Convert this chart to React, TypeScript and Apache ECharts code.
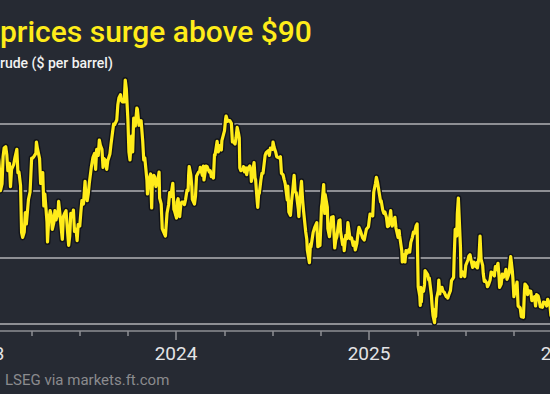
import React, { useEffect, useRef } from "react";
import * as echarts from "echarts";

// Brent crude, $ per barrel
const prices2023: [string, number][] = [
  ["2023-01-27", 86.7], ["2023-01-31", 84.5], ["2023-02-02", 82.2], ["2023-02-03", 80.0], ["2023-02-06", 81.0],
  ["2023-02-08", 85.1], ["2023-02-10", 86.4], ["2023-02-13", 86.6], ["2023-02-15", 85.4], ["2023-02-17", 83.0],
  ["2023-02-20", 84.1], ["2023-02-22", 80.6], ["2023-02-24", 83.2], ["2023-02-28", 83.9], ["2023-03-02", 84.8],
  ["2023-03-06", 86.2], ["2023-03-08", 82.7], ["2023-03-10", 82.8], ["2023-03-13", 80.8], ["2023-03-15", 73.7],
  ["2023-03-17", 73.0], ["2023-03-20", 73.8], ["2023-03-22", 76.7], ["2023-03-24", 75.0], ["2023-03-28", 78.7],
  ["2023-03-31", 79.8], ["2023-04-03", 84.9], ["2023-04-05", 84.9], ["2023-04-07", 85.1], ["2023-04-11", 85.6],
  ["2023-04-12", 87.3], ["2023-04-14", 86.3], ["2023-04-18", 84.8], ["2023-04-20", 81.1], ["2023-04-24", 82.7],
  ["2023-04-26", 77.7], ["2023-04-28", 79.5], ["2023-05-02", 75.3], ["2023-05-03", 72.3], ["2023-05-05", 75.3],
  ["2023-05-08", 77.0], ["2023-05-10", 76.4], ["2023-05-12", 74.2], ["2023-05-15", 75.2], ["2023-05-17", 77.0],
  ["2023-05-19", 75.6], ["2023-05-23", 76.8], ["2023-05-24", 78.4], ["2023-05-26", 76.9], ["2023-05-30", 73.5],
  ["2023-05-31", 72.7], ["2023-06-02", 76.1], ["2023-06-05", 76.7], ["2023-06-07", 77.0], ["2023-06-09", 74.8],
  ["2023-06-12", 71.8], ["2023-06-14", 73.2], ["2023-06-16", 76.6], ["2023-06-19", 76.1], ["2023-06-21", 77.1],
  ["2023-06-23", 73.9], ["2023-06-26", 74.2], ["2023-06-28", 72.5], ["2023-06-30", 74.9], ["2023-07-03", 74.7],
  ["2023-07-05", 76.7], ["2023-07-07", 78.5], ["2023-07-10", 78.0], ["2023-07-13", 81.4], ["2023-07-14", 79.9],
  ["2023-07-17", 78.5], ["2023-07-19", 79.5], ["2023-07-21", 81.1], ["2023-07-25", 83.6], ["2023-07-28", 85.0],
  ["2023-07-31", 85.6], ["2023-08-02", 83.2], ["2023-08-04", 86.2], ["2023-08-07", 85.3], ["2023-08-09", 87.6],
  ["2023-08-11", 86.8], ["2023-08-14", 86.2], ["2023-08-16", 83.5], ["2023-08-18", 84.8], ["2023-08-21", 84.5],
  ["2023-08-23", 83.2], ["2023-08-25", 84.5], ["2023-08-29", 85.5], ["2023-08-31", 86.9], ["2023-09-05", 90.0],
  ["2023-09-07", 89.9], ["2023-09-11", 90.6], ["2023-09-13", 92.9], ["2023-09-15", 93.9], ["2023-09-18", 94.4],
  ["2023-09-20", 93.5], ["2023-09-22", 93.3], ["2023-09-25", 93.3], ["2023-09-27", 96.6], ["2023-09-29", 95.3],
  ["2023-10-02", 90.7], ["2023-10-04", 85.8], ["2023-10-06", 84.6], ["2023-10-09", 88.2], ["2023-10-11", 85.8],
  ["2023-10-13", 90.9], ["2023-10-16", 89.7], ["2023-10-19", 92.4], ["2023-10-20", 92.2], ["2023-10-23", 89.8],
  ["2023-10-25", 90.1], ["2023-10-27", 90.5], ["2023-10-30", 87.5], ["2023-11-01", 84.6], ["2023-11-03", 84.9],
  ["2023-11-07", 81.6], ["2023-11-08", 79.5], ["2023-11-10", 81.4], ["2023-11-14", 82.5], ["2023-11-16", 77.4],
  ["2023-11-17", 80.6], ["2023-11-20", 82.3], ["2023-11-22", 82.0], ["2023-11-24", 80.6], ["2023-11-28", 81.7],
  ["2023-11-30", 82.8], ["2023-12-01", 78.9], ["2023-12-04", 78.0], ["2023-12-06", 74.3], ["2023-12-07", 74.1],
  ["2023-12-12", 73.2], ["2023-12-13", 74.3], ["2023-12-15", 76.6], ["2023-12-18", 77.9], ["2023-12-20", 79.7],
  ["2023-12-22", 79.1], ["2023-12-26", 81.1], ["2023-12-28", 77.2], ["2023-12-29", 77.0],
];

const prices2024: [string, number][] = [
  ["2024-01-02", 75.9], ["2024-01-03", 78.3], ["2024-01-05", 78.8], ["2024-01-08", 76.1], ["2024-01-10", 77.8],
  ["2024-01-12", 78.3], ["2024-01-16", 78.3], ["2024-01-17", 77.9], ["2024-01-19", 78.6], ["2024-01-22", 80.1],
  ["2024-01-24", 80.0], ["2024-01-25", 82.4], ["2024-01-26", 83.6], ["2024-01-29", 82.4], ["2024-01-31", 80.6],
  ["2024-02-01", 78.7], ["2024-02-05", 78.0], ["2024-02-07", 79.2], ["2024-02-09", 82.2], ["2024-02-13", 82.8],
  ["2024-02-15", 82.9], ["2024-02-16", 83.5], ["2024-02-20", 82.3], ["2024-02-22", 83.7], ["2024-02-23", 81.6],
  ["2024-02-27", 83.7], ["2024-02-29", 83.6], ["2024-03-04", 82.8], ["2024-03-06", 83.0], ["2024-03-08", 82.1],
  ["2024-03-11", 82.2], ["2024-03-12", 81.9], ["2024-03-14", 85.4], ["2024-03-15", 85.3], ["2024-03-18", 86.9],
  ["2024-03-19", 87.4], ["2024-03-21", 85.8], ["2024-03-25", 86.8], ["2024-03-27", 86.1], ["2024-03-28", 87.5],
  ["2024-04-02", 89.0], ["2024-04-04", 90.7], ["2024-04-05", 91.2], ["2024-04-08", 90.4], ["2024-04-10", 90.5],
  ["2024-04-12", 90.5], ["2024-04-15", 90.1], ["2024-04-17", 87.3], ["2024-04-19", 87.3], ["2024-04-22", 87.0],
  ["2024-04-24", 88.0], ["2024-04-26", 89.5], ["2024-04-29", 88.4], ["2024-04-30", 87.9], ["2024-05-01", 83.4],
  ["2024-05-03", 83.0], ["2024-05-07", 83.2], ["2024-05-08", 83.6], ["2024-05-10", 82.8], ["2024-05-13", 83.4],
  ["2024-05-14", 82.4], ["2024-05-16", 83.3], ["2024-05-20", 83.7], ["2024-05-22", 82.9], ["2024-05-23", 81.4],
  ["2024-05-28", 84.2], ["2024-05-30", 81.9], ["2024-05-31", 81.6], ["2024-06-03", 78.4], ["2024-06-04", 77.5],
  ["2024-06-06", 79.9], ["2024-06-07", 79.6], ["2024-06-10", 81.6], ["2024-06-12", 82.6], ["2024-06-14", 82.6],
  ["2024-06-18", 85.3], ["2024-06-20", 85.7], ["2024-06-24", 86.0], ["2024-06-26", 85.3], ["2024-06-28", 86.4],
  ["2024-07-02", 86.2], ["2024-07-03", 87.3], ["2024-07-05", 86.5], ["2024-07-08", 85.8], ["2024-07-10", 85.1],
  ["2024-07-12", 85.0], ["2024-07-15", 84.9], ["2024-07-17", 85.1], ["2024-07-19", 82.6], ["2024-07-22", 82.4],
  ["2024-07-24", 81.7], ["2024-07-26", 81.1], ["2024-07-30", 78.6], ["2024-07-31", 80.7], ["2024-08-02", 76.8],
  ["2024-08-05", 76.3], ["2024-08-07", 78.3], ["2024-08-09", 79.7], ["2024-08-12", 82.3], ["2024-08-14", 79.8],
  ["2024-08-16", 79.7], ["2024-08-20", 77.2], ["2024-08-21", 76.1], ["2024-08-23", 79.0], ["2024-08-26", 81.4],
  ["2024-08-28", 78.7], ["2024-08-30", 76.9], ["2024-09-03", 73.8], ["2024-09-05", 72.7], ["2024-09-06", 71.1],
  ["2024-09-10", 69.2], ["2024-09-12", 72.0], ["2024-09-13", 71.6], ["2024-09-17", 73.7], ["2024-09-20", 74.5],
  ["2024-09-24", 75.2], ["2024-09-26", 71.6], ["2024-09-30", 71.8], ["2024-10-01", 73.6], ["2024-10-03", 77.6],
  ["2024-10-04", 78.1], ["2024-10-07", 80.9], ["2024-10-09", 76.6], ["2024-10-10", 79.4], ["2024-10-14", 77.5],
  ["2024-10-15", 74.3], ["2024-10-18", 73.1], ["2024-10-22", 76.0], ["2024-10-25", 76.1], ["2024-10-28", 71.4],
  ["2024-10-30", 72.6], ["2024-11-01", 73.1], ["2024-11-05", 75.5], ["2024-11-07", 75.6], ["2024-11-08", 73.9],
  ["2024-11-12", 71.9], ["2024-11-14", 72.6], ["2024-11-15", 71.0], ["2024-11-18", 73.3], ["2024-11-20", 72.8],
  ["2024-11-22", 75.2], ["2024-11-26", 72.8], ["2024-11-27", 72.8], ["2024-11-29", 72.9], ["2024-12-02", 71.8],
  ["2024-12-04", 72.3], ["2024-12-06", 71.1], ["2024-12-09", 72.1], ["2024-12-11", 73.5], ["2024-12-13", 74.5],
  ["2024-12-16", 73.9], ["2024-12-18", 73.4], ["2024-12-20", 72.9], ["2024-12-23", 72.6], ["2024-12-27", 74.2],
  ["2024-12-31", 74.6],
];

const prices2025: [string, number][] = [
  ["2025-01-02", 75.9], ["2025-01-03", 76.5], ["2025-01-06", 76.3], ["2025-01-08", 76.2], ["2025-01-10", 79.8],
  ["2025-01-13", 81.0], ["2025-01-15", 82.0], ["2025-01-17", 81.3], ["2025-01-21", 79.3], ["2025-01-23", 78.3],
  ["2025-01-24", 78.5], ["2025-01-27", 77.1], ["2025-01-29", 76.6], ["2025-01-31", 76.8], ["2025-02-03", 76.0],
  ["2025-02-05", 74.6], ["2025-02-07", 74.7], ["2025-02-11", 77.0], ["2025-02-13", 75.0], ["2025-02-14", 74.7],
  ["2025-02-18", 75.8], ["2025-02-19", 76.0], ["2025-02-21", 74.4], ["2025-02-25", 73.0], ["2025-02-27", 74.0],
  ["2025-02-28", 73.2], ["2025-03-04", 71.0], ["2025-03-05", 69.3], ["2025-03-07", 70.4], ["2025-03-10", 69.3],
  ["2025-03-12", 71.0], ["2025-03-14", 70.6], ["2025-03-17", 71.1], ["2025-03-19", 70.8], ["2025-03-21", 72.2],
  ["2025-03-24", 73.0], ["2025-03-26", 73.8], ["2025-03-28", 73.6], ["2025-03-31", 74.7], ["2025-04-02", 75.0],
  ["2025-04-03", 70.1], ["2025-04-04", 65.6], ["2025-04-07", 64.2], ["2025-04-08", 62.8], ["2025-04-09", 65.5],
  ["2025-04-10", 63.3], ["2025-04-11", 64.8], ["2025-04-14", 64.9], ["2025-04-16", 65.9], ["2025-04-17", 68.0],
  ["2025-04-22", 67.4], ["2025-04-24", 66.6], ["2025-04-25", 66.9], ["2025-04-29", 64.3], ["2025-04-30", 63.1],
  ["2025-05-02", 61.3], ["2025-05-05", 60.2], ["2025-05-06", 62.2], ["2025-05-07", 61.1], ["2025-05-09", 63.9],
  ["2025-05-12", 65.0], ["2025-05-13", 66.6], ["2025-05-15", 64.5], ["2025-05-16", 65.4], ["2025-05-19", 65.5],
  ["2025-05-21", 64.9], ["2025-05-23", 64.8], ["2025-05-27", 64.1], ["2025-05-29", 64.2], ["2025-05-30", 63.9],
  ["2025-06-02", 64.6], ["2025-06-04", 65.0], ["2025-06-06", 66.5], ["2025-06-10", 67.0], ["2025-06-11", 69.8],
  ["2025-06-13", 74.2], ["2025-06-16", 73.2], ["2025-06-17", 76.5], ["2025-06-19", 78.9], ["2025-06-20", 77.0],
  ["2025-06-23", 71.5], ["2025-06-24", 67.1], ["2025-06-26", 67.7], ["2025-06-27", 67.8], ["2025-07-01", 67.1],
  ["2025-07-03", 68.8], ["2025-07-07", 69.6], ["2025-07-09", 70.2], ["2025-07-11", 70.4], ["2025-07-14", 69.2],
  ["2025-07-16", 68.5], ["2025-07-18", 69.3], ["2025-07-22", 68.6], ["2025-07-24", 69.2], ["2025-07-25", 68.4],
  ["2025-07-28", 70.0], ["2025-07-30", 73.2], ["2025-08-01", 69.7], ["2025-08-04", 68.8], ["2025-08-05", 67.6],
  ["2025-08-07", 66.4], ["2025-08-08", 66.6], ["2025-08-12", 66.1], ["2025-08-13", 65.6], ["2025-08-15", 65.9],
  ["2025-08-18", 66.6], ["2025-08-20", 67.8], ["2025-08-22", 67.7], ["2025-08-26", 67.2], ["2025-08-28", 68.6],
  ["2025-08-29", 68.1], ["2025-09-02", 69.1], ["2025-09-04", 67.0], ["2025-09-05", 65.5], ["2025-09-08", 66.0],
  ["2025-09-10", 67.5], ["2025-09-12", 67.0], ["2025-09-15", 67.4], ["2025-09-17", 68.2], ["2025-09-19", 66.7],
  ["2025-09-23", 67.6], ["2025-09-25", 69.4], ["2025-09-26", 70.1], ["2025-09-29", 68.0], ["2025-09-30", 67.0],
  ["2025-10-02", 64.1], ["2025-10-06", 65.5], ["2025-10-08", 66.3], ["2025-10-10", 62.7], ["2025-10-14", 62.4],
  ["2025-10-16", 61.1], ["2025-10-20", 61.0], ["2025-10-22", 65.0], ["2025-10-23", 66.0], ["2025-10-27", 65.6],
  ["2025-10-28", 64.4], ["2025-10-30", 65.0], ["2025-11-03", 64.9], ["2025-11-05", 63.5], ["2025-11-07", 63.6],
  ["2025-11-10", 64.1], ["2025-11-12", 62.7], ["2025-11-14", 64.4], ["2025-11-17", 64.2], ["2025-11-19", 63.5],
  ["2025-11-21", 62.6], ["2025-11-25", 62.5], ["2025-11-27", 63.3], ["2025-12-01", 63.2], ["2025-12-03", 62.7],
  ["2025-12-05", 63.7], ["2025-12-09", 62.9], ["2025-12-11", 61.3], ["2025-12-15", 60.6], ["2025-12-17", 59.7],
  ["2025-12-19", 60.5], ["2025-12-23", 62.4], ["2025-12-30", 61.9],
];

const yearTicks = [2023, 2024, 2025, 2026];
const yTicks = [60, 70, 80, 90];

const TITLE = "prices surge above $90";
const SUBTITLE = "rude ($ per barrel)";
const SOURCE = "LSEG via markets.ft.com";

const BG = "#262a33";
const YELLOW = "#ffec1a";
const GRID = "#8e8f94";

function toYear(d: string): number {
  const [y, m, dd] = d.split("-").map(Number);
  const start = Date.UTC(y, 0, 1);
  const end = Date.UTC(y + 1, 0, 1);
  return y + (Date.UTC(y, m - 1, dd) - start) / (end - start);
}

export default function App() {
  const ref = useRef<HTMLDivElement>(null);
  useEffect(() => {
    if (!ref.current) return;
    const chart = echarts.init(ref.current, undefined, { renderer: "svg" });
    const all = [...prices2023, ...prices2024, ...prices2025];
    const data = all.map(([d, v]) => [toYear(d), v]);
    chart.setOption({
      animation: false,
      backgroundColor: BG,
      grid: {
        left: -17,
        right: -12,
        top: 74,
        bottom: 70,
        containLabel: false,
        outerBoundsMode: "none",
      },
      xAxis: {
        type: "value",
        min: yearTicks[0],
        max: yearTicks[yearTicks.length - 1],
        interval: 1,
        position: "bottom",
        offset: 7,
        axisLine: { show: true, lineStyle: { color: GRID, width: 1.5 } },
        axisTick: { show: true, length: 9, lineStyle: { color: GRID, width: 1.5 } },
        minorTick: { show: true, splitNumber: 4, length: 5, lineStyle: { color: GRID, width: 1.5 } },
        axisLabel: {
          formatter: (v: number) => String(Math.round(v)),
          color: "#e4e4e6",
          fontFamily: "Roboto",
          fontSize: 19,
          lineHeight: 19,
          margin: 13,
          showMinLabel: true,
          showMaxLabel: true,
        },
        splitLine: { show: false },
        minorSplitLine: { show: false },
      },
      yAxis: {
        type: "value",
        min: yTicks[0],
        max: 97.5,
        interval: 10,
        axisLine: { show: false },
        axisTick: { show: false },
        axisLabel: { show: false },
        splitLine: { show: true, showMaxLine: false, lineStyle: { color: GRID, width: 2 } },
      },
      graphic: [
        {
          type: "text",
          left: 0,
          top: 16,
          style: { text: TITLE, fill: YELLOW, font: "500 30px Roboto" },
        },
        {
          type: "text",
          left: 0,
          top: 56,
          style: { text: SUBTITLE, fill: "#f2f2f2", font: "500 14px Roboto" },
        },
        {
          type: "text",
          left: 5,
          top: 372,
          style: { text: SOURCE, fill: "#8b8b8e", font: "15px Roboto" },
        },
      ],
      series: [
        {
          type: "line",
          data,
          symbol: "none",
          silent: true,
          lineStyle: { color: "#12141a", width: 6, join: "round", cap: "round" },
          z: 2,
        },
        {
          type: "line",
          data,
          symbol: "none",
          silent: true,
          lineStyle: { color: YELLOW, width: 3.2, join: "round", cap: "round" },
          z: 3,
        },
      ],
    });
    return () => chart.dispose();
  }, []);
  return (
    <div
      ref={ref}
      style={{ position: "fixed", left: 0, top: 0, width: 550, height: 394, background: BG }}
    />
  );
}
